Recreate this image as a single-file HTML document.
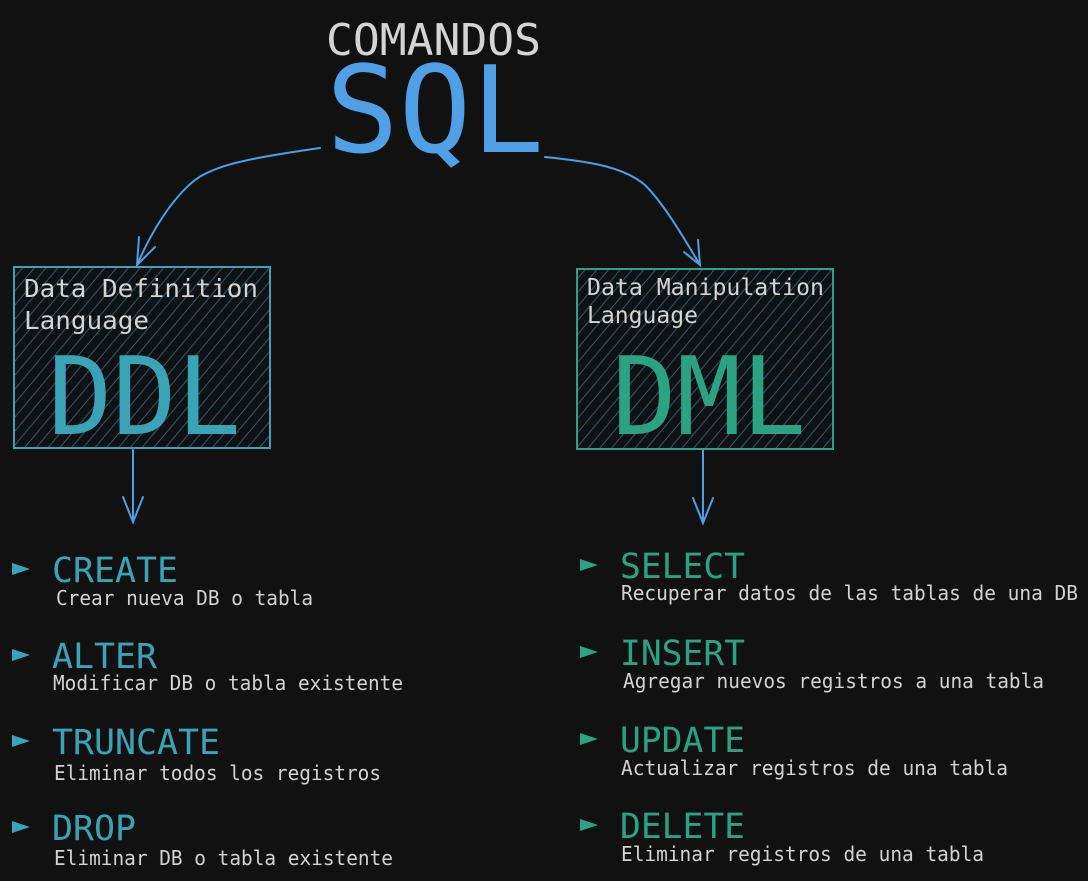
<!DOCTYPE html>
<html><head><meta charset="utf-8"><style>
html,body{margin:0;padding:0;background:#111111;}
svg{display:block;}
text{font-family:"DejaVu Sans Mono","Liberation Mono",monospace;}
</style></head><body>
<svg width="1088" height="881" viewBox="0 0 1088 881" xmlns="http://www.w3.org/2000/svg">
<defs>
<pattern id="h1" patternUnits="userSpaceOnUse" width="9" height="9" patternTransform="rotate(40)">
<line x1="0" y1="0" x2="0" y2="9" stroke="#235a80" stroke-width="2"/>
</pattern>
</defs>
<rect width="1088" height="881" fill="#111111"/>
<text x="326" y="55" font-size="44" fill="#d4d4d4" textLength="215" lengthAdjust="spacingAndGlyphs">COMANDOS</text>
<text x="326" y="152" font-size="120" fill="#4fa0e6" textLength="218" lengthAdjust="spacingAndGlyphs">SQL</text>

<g fill="none" stroke="#4c9fe6" stroke-width="2" stroke-linecap="round">
<path d="M320 148 C 250 158, 215 165, 195 180 C 170 200, 150 235, 137 265"/>
<path d="M139 237 L137 265 L155 247"/>
<path d="M545 157 C 595 162, 625 168, 645 185 C 665 205, 685 240, 700 265"/>
<path d="M698 240 L700 265 L684 252"/>
<path d="M133 450 L133 522"/>
<path d="M123 497 L133 522 L143 497"/>
<path d="M703 450 L703 523"/>
<path d="M693 498 L703 523 L713 498"/>
</g>

<rect x="14" y="267" width="256" height="181" fill="url(#h1)" stroke="#3aa3b5" stroke-width="2"/>
<rect x="577" y="269" width="256" height="180" fill="url(#h1)" stroke="#2ba383" stroke-width="2"/>

<text x="24" y="297" font-size="25" fill="#d4d4d4" textLength="234" lengthAdjust="spacingAndGlyphs">Data Definition</text>
<text x="24" y="329" font-size="25" fill="#d4d4d4" textLength="125" lengthAdjust="spacingAndGlyphs">Language</text>
<text x="48" y="434" font-size="108" fill="#3aa3b5" textLength="193" lengthAdjust="spacingAndGlyphs">DDL</text>

<text x="587" y="295" font-size="23" fill="#d4d4d4" textLength="237" lengthAdjust="spacingAndGlyphs">Data Manipulation</text>
<text x="587" y="323" font-size="23" fill="#d4d4d4" textLength="111" lengthAdjust="spacingAndGlyphs">Language</text>
<text x="612" y="434" font-size="108" fill="#2ba383" textLength="194" lengthAdjust="spacingAndGlyphs">DML</text>

<g fill="#3aa3b5">
<polygon points="12,563 30,569 12,575"/>
<polygon points="12,649 30,655 12,661"/>
<polygon points="12,735 30,741 12,747"/>
<polygon points="12,821 30,827 12,833"/>
</g>
<g fill="#2ba383">
<polygon points="580,559 598,565 580,571"/>
<polygon points="580,646 598,652 580,658"/>
<polygon points="580,733 598,739 580,745"/>
<polygon points="580,819 598,825 580,831"/>
</g>

<g font-size="35" fill="#3aa3b5">
<text x="52" y="582" textLength="126" lengthAdjust="spacingAndGlyphs">CREATE</text>
<text x="52" y="668" textLength="105" lengthAdjust="spacingAndGlyphs">ALTER</text>
<text x="52" y="754" textLength="168" lengthAdjust="spacingAndGlyphs">TRUNCATE</text>
<text x="52" y="840" textLength="84" lengthAdjust="spacingAndGlyphs">DROP</text>
</g>
<g font-size="35" fill="#2ba383">
<text x="620" y="578" textLength="125" lengthAdjust="spacingAndGlyphs">SELECT</text>
<text x="620" y="665" textLength="125" lengthAdjust="spacingAndGlyphs">INSERT</text>
<text x="620" y="752" textLength="125" lengthAdjust="spacingAndGlyphs">UPDATE</text>
<text x="620" y="838" textLength="125" lengthAdjust="spacingAndGlyphs">DELETE</text>
</g>
<g font-size="20" fill="#d2d2d2">
<text x="56" y="605" textLength="257" lengthAdjust="spacingAndGlyphs">Crear nueva DB o tabla</text>
<text x="53" y="690" textLength="350" lengthAdjust="spacingAndGlyphs">Modificar DB o tabla existente</text>
<text x="54" y="780" textLength="327" lengthAdjust="spacingAndGlyphs">Eliminar todos los registros</text>
<text x="54" y="865" textLength="339" lengthAdjust="spacingAndGlyphs">Eliminar DB o tabla existente</text>
<text x="621" y="600" textLength="457" lengthAdjust="spacingAndGlyphs">Recuperar datos de las tablas de una DB</text>
<text x="623" y="688" textLength="421" lengthAdjust="spacingAndGlyphs">Agregar nuevos registros a una tabla</text>
<text x="621" y="775" textLength="387" lengthAdjust="spacingAndGlyphs">Actualizar registros de una tabla</text>
<text x="621" y="861" textLength="363" lengthAdjust="spacingAndGlyphs">Eliminar registros de una tabla</text>
</g>
</svg>
</body></html>
